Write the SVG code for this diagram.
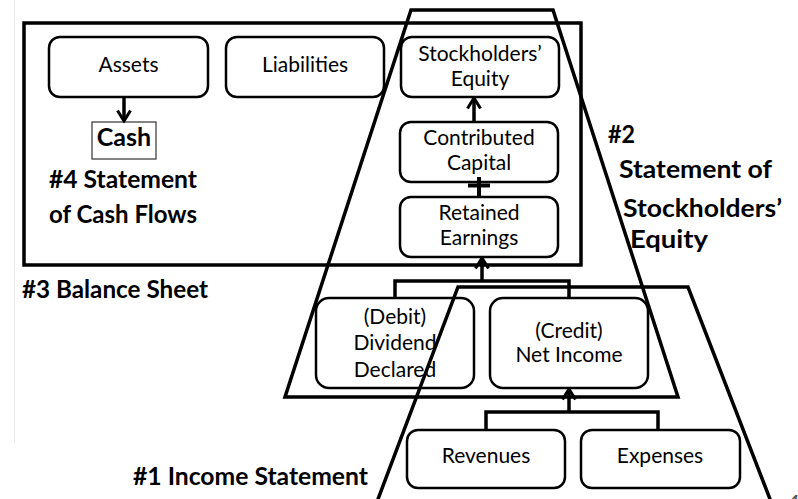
<svg xmlns="http://www.w3.org/2000/svg" width="798" height="499" viewBox="0 0 798 499">
<defs>
<style>
.box{fill:none;stroke:#000;stroke-width:2.5}
.frame{fill:none;stroke:#000;stroke-width:3.5;stroke-linejoin:miter}
.t{font-family:Lato,"Open Sans","Liberation Sans",sans-serif;font-size:21px;fill:#000;text-anchor:middle}
.b{font-family:Lato,"Liberation Sans",sans-serif;font-weight:bold;font-size:25px;fill:#000}
.ln{fill:none;stroke:#000;stroke-width:3.5}
</style>
<marker id="arr" viewBox="0 0 14 16" refX="12" refY="8" markerWidth="14" markerHeight="16" markerUnits="userSpaceOnUse" orient="auto">
<path d="M1.5,1.5 L12,8 L1.5,14.5" fill="none" stroke="#000" stroke-width="3"/>
</marker>
</defs>
<rect width="798" height="499" fill="#fff"/>
<line x1="14.5" y1="0" x2="14.5" y2="443" stroke="#ececec" stroke-width="1"/>

<g id="balance-sheet">
<rect class="frame" x="24" y="23" width="557" height="242"/>
<text class="b" x="22" y="298" textLength="186" lengthAdjust="spacingAndGlyphs">#3 Balance Sheet</text>
</g>

<g id="cash-flows-label">
<text class="b" x="49" y="188" textLength="148" lengthAdjust="spacingAndGlyphs">#4 Statement</text>
<text class="b" x="49" y="223" textLength="148" lengthAdjust="spacingAndGlyphs">of Cash Flows</text>
</g>

<g id="assets">
<rect class="box" x="49" y="37" width="159" height="60" rx="11"/>
<text class="t" x="128.5" y="72">Assets</text>
</g>
<g id="liabilities">
<rect class="box" x="226" y="37" width="158" height="60" rx="11"/>
<text class="t" x="305" y="72">Liabilities</text>
</g>
<g id="cash">
<rect x="92" y="122" width="64" height="37" fill="none" stroke="#333" stroke-width="1.2"/>
<text class="b" x="124" y="146" font-size="19" text-anchor="middle">Cash</text>
</g>
<g id="stockholders-equity">
<rect class="box" x="401" y="37" width="158" height="60" rx="11"/>
<text class="t" x="480" y="61">Stockholders’</text>
<text class="t" x="480" y="86">Equity</text>
</g>
<g id="contributed-capital">
<rect class="box" x="400" y="122" width="158" height="60" rx="11"/>
<text class="t" x="479" y="145">Contributed</text>
<text class="t" x="479" y="170">Capital</text>
</g>
<g id="retained-earnings">
<rect class="box" x="400" y="197" width="158" height="60" rx="11"/>
<text class="t" x="479" y="220">Retained</text>
<text class="t" x="479" y="245">Earnings</text>
</g>
<g id="dividend">
<rect class="box" x="316" y="298" width="158" height="90" rx="13"/>
<text class="t" x="395" y="324">(Debit)</text>
<text class="t" x="395" y="350">Dividend</text>
<text class="t" x="395" y="377">Declared</text>
</g>
<g id="net-income">
<rect class="box" x="490" y="298" width="158" height="90" rx="13"/>
<text class="t" x="569" y="338">(Credit)</text>
<text class="t" x="569" y="362">Net Income</text>
</g>
<g id="revenues">
<rect class="box" x="407" y="430" width="158" height="58" rx="11"/>
<text class="t" x="486" y="463">Revenues</text>
</g>
<g id="expenses">
<rect class="box" x="581" y="430" width="159" height="58" rx="11"/>
<text class="t" x="660" y="463">Expenses</text>
</g>

<g id="stockholders-equity-statement">
<polygon class="frame" points="411,10 553,10 678,397 285,397"/>
<text class="b" x="608" y="143" textLength="27" lengthAdjust="spacingAndGlyphs">#2</text>
<text class="b" x="619" y="178" textLength="153" lengthAdjust="spacingAndGlyphs">Statement of</text>
<text class="b" x="623" y="217" textLength="159" lengthAdjust="spacingAndGlyphs">Stockholders’</text>
<text class="b" x="630" y="248" textLength="78" lengthAdjust="spacingAndGlyphs">Equity</text>
</g>

<g id="income-statement">
<polyline class="frame" points="372,515 458,287 688,287 775,512"/>
<text class="b" x="133" y="485" textLength="235" lengthAdjust="spacingAndGlyphs">#1 Income Statement</text>
</g>

<g id="connectors">
<line class="ln" x1="124" y1="97" x2="124" y2="121" marker-end="url(#arr)"/>
<line class="ln" x1="474" y1="122" x2="474" y2="98" marker-end="url(#arr)"/>
<line x1="479" y1="177" x2="479" y2="197" stroke="#000" stroke-width="4"/>
<line x1="468" y1="185.5" x2="490" y2="185.5" stroke="#000" stroke-width="4"/>
<polyline class="ln" points="395,298 395,281 569,281 569,298"/>
<line class="ln" x1="482" y1="281" x2="482" y2="258" marker-end="url(#arr)"/>
<polyline class="ln" points="486,430 486,412 658,412 658,430"/>
<line class="ln" x1="569" y1="412" x2="569" y2="389" marker-end="url(#arr)"/>
</g>

<text x="786" y="510" font-family="'Liberation Sans',sans-serif" font-style="italic" font-size="22" fill="#555">4</text>
</svg>
